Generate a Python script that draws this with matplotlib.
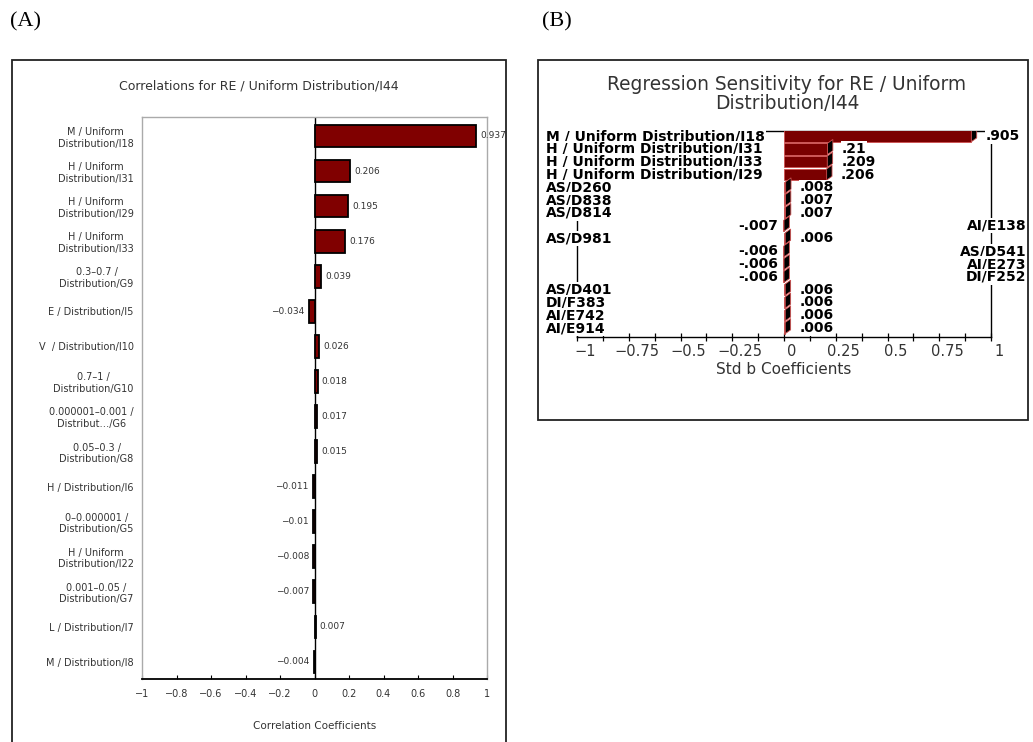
import matplotlib.pyplot as plt
import matplotlib.transforms as mtransforms
from matplotlib.patches import Rectangle, Polygon
import numpy as np

# (A) correlation coefficients
a_labels = [
    "M / Uniform\nDistribution/I18", "H / Uniform\nDistribution/I31",
    "H / Uniform\nDistribution/I29", "H / Uniform\nDistribution/I33",
    "0.3–0.7 /\nDistribution/G9", "E / Distribution/I5",
    "V  / Distribution/I10", "0.7–1 /\nDistribution/G10",
    "0.000001–0.001 /\nDistribut…/G6", "0.05–0.3 /\nDistribution/G8",
    "H / Distribution/I6", "0–0.000001 /\nDistribution/G5",
    "H / Uniform\nDistribution/I22", "0.001–0.05 /\nDistribution/G7",
    "L / Distribution/I7", "M / Distribution/I8",
]
a_values = [0.937, 0.206, 0.195, 0.176, 0.039, -0.034, 0.026, 0.018,
            0.017, 0.015, -0.011, -0.01, -0.008, -0.007, 0.007, -0.004]
a_ticks = [-1, -0.8, -0.6, -0.4, -0.2, 0, 0.2, 0.4, 0.6, 0.8, 1]

# (B) regression sensitivity
b_labels = [
    "M / Uniform Distribution/I18", "H / Uniform Distribution/I31",
    "H / Uniform Distribution/I33", "H / Uniform Distribution/I29",
    "AS/D260", "AS/D838", "AS/D814", "AI/E138", "AS/D981", "AS/D541",
    "AI/E273", "DI/F252", "AS/D401", "DI/F383", "AI/E742", "AI/E914",
]
b_values = [0.905, 0.21, 0.209, 0.206, 0.008, 0.007, 0.007, -0.007,
            0.006, -0.006, -0.006, -0.006, 0.006, 0.006, 0.006, 0.006]
b_ticks = [-1, -0.75, -0.5, -0.25, 0, 0.25, 0.5, 0.75, 1]

W, H = 1033, 742
fig = plt.figure(figsize=(W / 100, H / 100), dpi=100)
fig.patch.set_facecolor("white")


def px_rect(x0, y0, x1, y1):
    # pixel box (top-left origin) -> figure fraction
    return [x0 / W, 1 - y1 / H, (x1 - x0) / W, (y1 - y0) / H]


# panel frames and letters
for x0, y0, x1, y1 in [(12, 60, 506, 790), (538, 60, 1028, 420)]:
    l, b, w, h = px_rect(x0, y0, x1, y1)
    fig.patches.append(Rectangle((l, b), w, h, transform=fig.transFigure,
                                 fill=False, edgecolor="#222222", lw=1.3))
fig.text(10 / W, 1 - 22 / H, "(A)", family="Liberation Serif", fontsize=16,
         va="center", ha="left")
fig.text(542 / W, 1 - 22 / H, "(B)", family="Liberation Serif", fontsize=16,
         va="center", ha="left")

# ---- (A) ----
axA = fig.add_axes(px_rect(142, 117, 487, 679))
ya = np.arange(len(a_values))
axA.barh(ya, a_values, height=0.65, color="#800000", edgecolor="black",
         linewidth=1.3, zorder=3)
axA.axvline(0, color="black", lw=1.0, zorder=2)
axA.set_xlim(-1, 1)
axA.set_ylim(len(a_values) - 0.515, -0.54)
axA.set_yticks(ya)
axA.set_yticklabels(a_labels, fontsize=7, color="#333333",
                    multialignment="center")
axA.tick_params(axis="y", length=0, pad=6)
axA.set_xticks(a_ticks)
axA.set_xticklabels([f"{t:g}".replace("-", "\u2212") for t in a_ticks],
                    fontsize=7, color="#333333")
axA.tick_params(axis="x", direction="in", length=3, width=0.8, pad=7)
for side in ["top", "left", "right"]:
    axA.spines[side].set_color("#aaaaaa")
    axA.spines[side].set_linewidth(1.0)
axA.spines["bottom"].set_linewidth(1.3)
axA.set_xlabel("Correlation Coefficients", fontsize=7.5, color="#333333",
               labelpad=16)
fig.text(259 / W, 1 - 86 / H, "Correlations for RE / Uniform Distribution/I44",
         fontsize=9, color="#333333", ha="center", va="center")
for y, v in zip(ya, a_values):
    txt = f"{v:g}".replace("-", "\u2212")
    if v >= 0:
        axA.annotate(txt, (v, y), xytext=(3, 0), textcoords="offset points",
                     ha="left", va="center", fontsize=6.5, color="#333333")
    else:
        axA.annotate(txt, (v, y), xytext=(-3, 0), textcoords="offset points",
                     ha="right", va="center", fontsize=6.5, color="#333333")

# ---- (B) ----
axB = fig.add_axes(px_rect(577, 131, 991, 337))
yb = np.arange(len(b_values))
axB.set_xlim(-1, 1)
axB.set_ylim(len(b_values) - 0.3, -0.4)
bh = 0.88
dx, dy = 0.026, 0.3
for y, v in zip(yb, b_values):
    x0, x1 = min(0, v), max(0, v)
    axB.add_patch(Rectangle((x0, y - bh / 2), x1 - x0, bh, facecolor="#7a0000",
                            edgecolor="#d05050", lw=0.6, zorder=3))
    # shaded depth face on the bar end
    axB.add_patch(Polygon([(x1, y + bh / 2), (x1, y - bh / 2),
                           (x1 + dx, y - bh / 2 - dy), (x1 + dx, y + bh / 2 - dy)],
                          closed=True, facecolor="black", edgecolor="#d05050",
                          lw=0.6, zorder=4))

lab_kw = dict(fontsize=10, fontweight="bold", va="center", zorder=6,
              bbox=dict(facecolor="white", edgecolor="none", pad=0.5))
for y, v, name in zip(yb, b_values, b_labels):
    val = f"{v:g}".replace("0.", ".", 1)
    if v >= 0:
        axB.text(-1.15, y, name, ha="left", clip_on=False, **lab_kw)
        axB.annotate(val, (v, y), xytext=(10, 0), textcoords="offset points",
                     ha="left", annotation_clip=False, **lab_kw)
    else:
        axB.text(1.17, y, name, ha="right", clip_on=False, **lab_kw)
        axB.annotate(val, (v, y), xytext=(-3.5, 0), textcoords="offset points",
                     ha="right", annotation_clip=False, **lab_kw)

axB.set_yticks([])
axB.set_xticks(b_ticks)
axB.set_xticks(np.arange(-1, 1.01, 0.125), minor=True)
axB.set_xticklabels([f"{t:g}".replace("-", "\u2212") for t in b_ticks],
                    fontsize=10.5, color="#333333")
axB.tick_params(axis="x", which="both", direction="inout", length=6,
                width=0.9, pad=2)
shift = mtransforms.ScaledTranslation(8 / 100, 0, fig.dpi_scale_trans)
for lbl in axB.get_xticklabels():
    lbl.set_transform(lbl.get_transform() + shift)
for sp in axB.spines.values():
    sp.set_color("black")
    sp.set_linewidth(1.0)
axB.set_xlabel("Std b Coefficients", fontsize=11, color="#333333", labelpad=2)
fig.text(787 / W, 1 - 94 / H,
         "Regression Sensitivity for RE / Uniform\nDistribution/I44",
         fontsize=13.4, color="#333333", ha="center", va="center",
         linespacing=1.0)

fig.savefig("out.png", dpi=100)
